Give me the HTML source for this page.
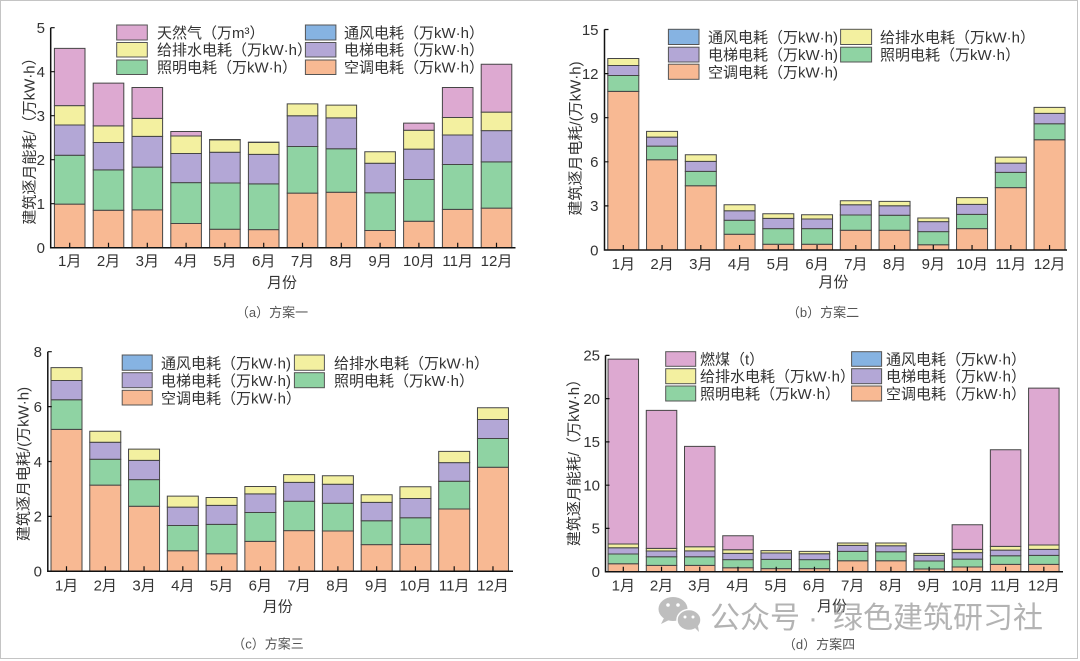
<!DOCTYPE html>
<html>
<head>
<meta charset="utf-8">
<style>
html,body{margin:0;padding:0;background:#fff;}
svg{display:block;}
text{font-family:"Liberation Sans","Noto Sans CJK SC",sans-serif;fill:#333;}
.t{font-size:15px;}
.lg{font-size:15px;}
.cap{font-size:13px;fill:#555;}
.bars rect{stroke:#454545;stroke-width:1;vector-effect:non-scaling-stroke;}
.sw{stroke:#555;stroke-width:1;}
.o{fill:#f8b993}.g{fill:#8fd3a3}.p{fill:#b3a7d6}.y{fill:#f3f0a0}.k{fill:#dda9d1}.b{fill:#86b3e2}
.ax{stroke:#111;stroke-width:1.5;fill:none;}
.tk{stroke:#111;stroke-width:1.2;}
</style>
</head>
<body>
<svg width="1080" height="661" viewBox="0 0 1080 661" xmlns="http://www.w3.org/2000/svg">
<rect x="0.5" y="0.5" width="1077" height="658" fill="#fff" stroke="#c4c4c4" stroke-width="1"/>

<!-- ================= Panel A ================= -->
<g class="bars" transform="translate(0,247.7) scale(1,-44)">
<rect class="o" x="54.4" y="0" width="30.6" height="0.99"/><rect class="g" x="54.4" y="0.99" width="30.6" height="1.11"/><rect class="p" x="54.4" y="2.10" width="30.6" height="0.69"/><rect class="y" x="54.4" y="2.79" width="30.6" height="0.44"/><rect class="k" x="54.4" y="3.23" width="30.6" height="1.30"/>
<rect class="o" x="93.2" y="0" width="30.6" height="0.85"/><rect class="g" x="93.2" y="0.85" width="30.6" height="0.92"/><rect class="p" x="93.2" y="1.77" width="30.6" height="0.62"/><rect class="y" x="93.2" y="2.39" width="30.6" height="0.38"/><rect class="k" x="93.2" y="2.77" width="30.6" height="0.97"/>
<rect class="o" x="132.0" y="0" width="30.6" height="0.86"/><rect class="g" x="132.0" y="0.86" width="30.6" height="0.97"/><rect class="p" x="132.0" y="1.83" width="30.6" height="0.70"/><rect class="y" x="132.0" y="2.53" width="30.6" height="0.41"/><rect class="k" x="132.0" y="2.94" width="30.6" height="0.70"/>
<rect class="o" x="170.8" y="0" width="30.6" height="0.55"/><rect class="g" x="170.8" y="0.55" width="30.6" height="0.93"/><rect class="p" x="170.8" y="1.48" width="30.6" height="0.66"/><rect class="y" x="170.8" y="2.14" width="30.6" height="0.40"/><rect class="k" x="170.8" y="2.54" width="30.6" height="0.10"/>
<rect class="o" x="209.6" y="0" width="30.6" height="0.42"/><rect class="g" x="209.6" y="0.42" width="30.6" height="1.05"/><rect class="p" x="209.6" y="1.47" width="30.6" height="0.70"/><rect class="y" x="209.6" y="2.17" width="30.6" height="0.28"/><rect class="k" x="209.6" y="2.45" width="30.6" height="0.01"/>
<rect class="o" x="248.4" y="0" width="30.6" height="0.41"/><rect class="g" x="248.4" y="0.41" width="30.6" height="1.04"/><rect class="p" x="248.4" y="1.45" width="30.6" height="0.67"/><rect class="y" x="248.4" y="2.12" width="30.6" height="0.27"/><rect class="k" x="248.4" y="2.39" width="30.6" height="0.01"/>
<rect class="o" x="287.2" y="0" width="30.6" height="1.24"/><rect class="g" x="287.2" y="1.24" width="30.6" height="1.06"/><rect class="p" x="287.2" y="2.30" width="30.6" height="0.70"/><rect class="y" x="287.2" y="3.00" width="30.6" height="0.27"/>
<rect class="o" x="326.0" y="0" width="30.6" height="1.26"/><rect class="g" x="326.0" y="1.26" width="30.6" height="0.99"/><rect class="p" x="326.0" y="2.25" width="30.6" height="0.70"/><rect class="y" x="326.0" y="2.95" width="30.6" height="0.29"/>
<rect class="o" x="364.8" y="0" width="30.6" height="0.39"/><rect class="g" x="364.8" y="0.39" width="30.6" height="0.86"/><rect class="p" x="364.8" y="1.25" width="30.6" height="0.67"/><rect class="y" x="364.8" y="1.92" width="30.6" height="0.26"/>
<rect class="o" x="403.6" y="0" width="30.6" height="0.60"/><rect class="g" x="403.6" y="0.60" width="30.6" height="0.95"/><rect class="p" x="403.6" y="1.55" width="30.6" height="0.69"/><rect class="y" x="403.6" y="2.24" width="30.6" height="0.43"/><rect class="k" x="403.6" y="2.67" width="30.6" height="0.16"/>
<rect class="o" x="442.4" y="0" width="30.6" height="0.87"/><rect class="g" x="442.4" y="0.87" width="30.6" height="1.02"/><rect class="p" x="442.4" y="1.89" width="30.6" height="0.67"/><rect class="y" x="442.4" y="2.56" width="30.6" height="0.40"/><rect class="k" x="442.4" y="2.96" width="30.6" height="0.68"/>
<rect class="o" x="481.2" y="0" width="30.6" height="0.90"/><rect class="g" x="481.2" y="0.90" width="30.6" height="1.05"/><rect class="p" x="481.2" y="1.95" width="30.6" height="0.71"/><rect class="y" x="481.2" y="2.66" width="30.6" height="0.42"/><rect class="k" x="481.2" y="3.08" width="30.6" height="1.09"/>
</g>
<path class="ax" d="M50.7 27.7 V247.7 H515.5"/>
<path class="tk" d="M50.7 27.7h4M50.7 71.7h4M50.7 115.7h4M50.7 159.7h4M50.7 203.7h4M69.7 247.7v-5M108.5 247.7v-5M147.3 247.7v-5M186.1 247.7v-5M224.9 247.7v-5M263.7 247.7v-5M302.5 247.7v-5M341.3 247.7v-5M380.1 247.7v-5M418.9 247.7v-5M457.7 247.7v-5M496.5 247.7v-5"/>
<g class="t" text-anchor="end">
<text x="45" y="253">0</text><text x="45" y="209">1</text><text x="45" y="165">2</text><text x="45" y="121">3</text><text x="45" y="77">4</text><text x="45" y="33">5</text>
</g>
<g class="t" text-anchor="middle">
<text x="69.7" y="266">1月</text><text x="108.5" y="266">2月</text><text x="147.3" y="266">3月</text><text x="186.1" y="266">4月</text><text x="224.9" y="266">5月</text><text x="263.7" y="266">6月</text><text x="302.5" y="266">7月</text><text x="341.3" y="266">8月</text><text x="380.1" y="266">9月</text><text x="418.9" y="266">10月</text><text x="457.7" y="266">11月</text><text x="496.5" y="266">12月</text>
<text x="282" y="287.5">月份</text>
</g>
<text class="t" text-anchor="middle" dominant-baseline="central" transform="translate(30,137.5) rotate(-90)">建筑逐月能耗/（万kW·h）</text>
<text class="cap" x="272" y="317" text-anchor="middle">（a）方案一</text>
<!-- legend A -->
<rect class="sw k" x="116.7" y="25" width="30.6" height="15"/>
<rect class="sw y" x="116.7" y="42.5" width="30.6" height="14.5"/>
<rect class="sw g" x="116.7" y="60" width="30.6" height="14.5"/>
<rect class="sw b" x="305.4" y="25" width="30.5" height="15"/>
<rect class="sw p" x="305.4" y="42.5" width="30.5" height="14.5"/>
<rect class="sw o" x="305.4" y="60" width="30.5" height="14.5"/>
<g class="lg">
<text x="157" y="38">天然气（万m³）</text>
<text x="157" y="55">给排水电耗（万kW·h）</text>
<text x="157" y="72.5">照明电耗（万kW·h）</text>
<text x="344" y="38">通风电耗（万kW·h）</text>
<text x="344" y="55">电梯电耗（万kW·h）</text>
<text x="344" y="72.5">空调电耗（万kW·h）</text>
</g>

<!-- ================= Panel B ================= -->
<g class="bars" transform="translate(0,250) scale(1,-14.7)">
<rect class="o" x="607.8" y="0" width="31" height="10.79"/><rect class="g" x="607.8" y="10.79" width="31" height="1.08"/><rect class="p" x="607.8" y="11.87" width="31" height="0.68"/><rect class="y" x="607.8" y="12.55" width="31" height="0.48"/>
<rect class="o" x="646.55" y="0" width="31" height="6.14"/><rect class="g" x="646.55" y="6.14" width="31" height="0.93"/><rect class="p" x="646.55" y="7.07" width="31" height="0.61"/><rect class="y" x="646.55" y="7.68" width="31" height="0.39"/>
<rect class="o" x="685.3" y="0" width="31" height="4.37"/><rect class="g" x="685.3" y="4.37" width="31" height="0.98"/><rect class="p" x="685.3" y="5.35" width="31" height="0.68"/><rect class="y" x="685.3" y="6.03" width="31" height="0.45"/>
<rect class="o" x="724.05" y="0" width="31" height="1.07"/><rect class="g" x="724.05" y="1.07" width="31" height="0.95"/><rect class="p" x="724.05" y="2.02" width="31" height="0.65"/><rect class="y" x="724.05" y="2.67" width="31" height="0.41"/>
<rect class="o" x="762.8" y="0" width="31" height="0.39"/><rect class="g" x="762.8" y="0.39" width="31" height="1.06"/><rect class="p" x="762.8" y="1.45" width="31" height="0.70"/><rect class="y" x="762.8" y="2.15" width="31" height="0.32"/>
<rect class="o" x="801.55" y="0" width="31" height="0.39"/><rect class="g" x="801.55" y="0.39" width="31" height="1.06"/><rect class="p" x="801.55" y="1.45" width="31" height="0.66"/><rect class="y" x="801.55" y="2.11" width="31" height="0.29"/>
<rect class="o" x="840.3" y="0" width="31" height="1.34"/><rect class="g" x="840.3" y="1.34" width="31" height="1.04"/><rect class="p" x="840.3" y="2.38" width="31" height="0.70"/><rect class="y" x="840.3" y="3.08" width="31" height="0.27"/>
<rect class="o" x="879.05" y="0" width="31" height="1.34"/><rect class="g" x="879.05" y="1.34" width="31" height="1.02"/><rect class="p" x="879.05" y="2.36" width="31" height="0.65"/><rect class="y" x="879.05" y="3.01" width="31" height="0.30"/>
<rect class="o" x="917.8" y="0" width="31" height="0.36"/><rect class="g" x="917.8" y="0.36" width="31" height="0.89"/><rect class="p" x="917.8" y="1.25" width="31" height="0.68"/><rect class="y" x="917.8" y="1.93" width="31" height="0.25"/>
<rect class="o" x="956.55" y="0" width="31" height="1.45"/><rect class="g" x="956.55" y="1.45" width="31" height="0.97"/><rect class="p" x="956.55" y="2.42" width="31" height="0.68"/><rect class="y" x="956.55" y="3.10" width="31" height="0.46"/>
<rect class="o" x="995.3" y="0" width="31" height="4.24"/><rect class="g" x="995.3" y="4.24" width="31" height="1.04"/><rect class="p" x="995.3" y="5.28" width="31" height="0.63"/><rect class="y" x="995.3" y="5.91" width="31" height="0.41"/>
<rect class="o" x="1034.05" y="0" width="31" height="7.50"/><rect class="g" x="1034.05" y="7.50" width="31" height="1.09"/><rect class="p" x="1034.05" y="8.59" width="31" height="0.70"/><rect class="y" x="1034.05" y="9.29" width="31" height="0.41"/>
</g>
<path class="ax" d="M604.5 29.5 V250 H1067"/>
<path class="tk" d="M604.5 29.5h4M604.5 73.6h4M604.5 117.7h4M604.5 161.8h4M604.5 205.9h4M623.3 250v-5M662.05 250v-5M700.8 250v-5M739.55 250v-5M778.3 250v-5M817.05 250v-5M855.8 250v-5M894.55 250v-5M933.3 250v-5M972.05 250v-5M1010.8 250v-5M1049.55 250v-5"/>
<g class="t" text-anchor="end">
<text x="598.5" y="255.3">0</text><text x="598.5" y="211.2">3</text><text x="598.5" y="167.1">6</text><text x="598.5" y="123">9</text><text x="598.5" y="78.9">12</text><text x="598.5" y="34.8">15</text>
</g>
<g class="t" text-anchor="middle">
<text x="623.3" y="269">1月</text><text x="662.05" y="269">2月</text><text x="700.8" y="269">3月</text><text x="739.55" y="269">4月</text><text x="778.3" y="269">5月</text><text x="817.05" y="269">6月</text><text x="855.8" y="269">7月</text><text x="894.55" y="269">8月</text><text x="933.3" y="269">9月</text><text x="972.05" y="269">10月</text><text x="1010.8" y="269">11月</text><text x="1049.55" y="269">12月</text>
<text x="833.5" y="287">月份</text>
</g>
<text class="t" text-anchor="middle" dominant-baseline="central" transform="translate(576,138.5) rotate(-90)">建筑逐月电耗/(万kW·h)</text>
<text class="cap" x="823" y="317" text-anchor="middle">（b）方案二</text>
<!-- legend B -->
<rect class="sw b" x="668.4" y="29.3" width="30.6" height="15.2"/>
<rect class="sw p" x="668.4" y="47.2" width="30.6" height="14.8"/>
<rect class="sw o" x="668.4" y="64.2" width="30.6" height="15.1"/>
<rect class="sw y" x="840.6" y="29.3" width="31" height="15.2"/>
<rect class="sw g" x="840.6" y="47.2" width="31" height="14.8"/>
<g class="lg">
<text x="708" y="42.5">通风电耗（万kW·h)</text>
<text x="708" y="60">电梯电耗（万kW·h)</text>
<text x="708" y="77.5">空调电耗（万kW·h)</text>
<text x="880" y="42.5">给排水电耗（万kW·h）</text>
<text x="880" y="60">照明电耗（万kW·h）</text>
</g>

<!-- ================= Panel C ================= -->
<g class="bars" transform="translate(0,571.3) scale(1,-27.45)">
<rect class="o" x="51" y="0" width="31" height="5.17"/><rect class="g" x="51" y="5.17" width="31" height="1.08"/><rect class="p" x="51" y="6.25" width="31" height="0.70"/><rect class="y" x="51" y="6.95" width="31" height="0.47"/>
<rect class="o" x="89.77" y="0" width="31" height="3.14"/><rect class="g" x="89.77" y="3.14" width="31" height="0.94"/><rect class="p" x="89.77" y="4.08" width="31" height="0.62"/><rect class="y" x="89.77" y="4.70" width="31" height="0.40"/>
<rect class="o" x="128.54" y="0" width="31" height="2.37"/><rect class="g" x="128.54" y="2.37" width="31" height="0.97"/><rect class="p" x="128.54" y="3.34" width="31" height="0.70"/><rect class="y" x="128.54" y="4.04" width="31" height="0.41"/>
<rect class="o" x="167.31" y="0" width="31" height="0.75"/><rect class="g" x="167.31" y="0.75" width="31" height="0.92"/><rect class="p" x="167.31" y="1.67" width="31" height="0.67"/><rect class="y" x="167.31" y="2.34" width="31" height="0.40"/>
<rect class="o" x="206.08" y="0" width="31" height="0.64"/><rect class="g" x="206.08" y="0.64" width="31" height="1.07"/><rect class="p" x="206.08" y="1.71" width="31" height="0.69"/><rect class="y" x="206.08" y="2.40" width="31" height="0.29"/>
<rect class="o" x="244.85" y="0" width="31" height="1.09"/><rect class="g" x="244.85" y="1.09" width="31" height="1.05"/><rect class="p" x="244.85" y="2.14" width="31" height="0.68"/><rect class="y" x="244.85" y="2.82" width="31" height="0.27"/>
<rect class="o" x="283.62" y="0" width="31" height="1.48"/><rect class="g" x="283.62" y="1.48" width="31" height="1.07"/><rect class="p" x="283.62" y="2.55" width="31" height="0.69"/><rect class="y" x="283.62" y="3.24" width="31" height="0.28"/>
<rect class="o" x="322.39" y="0" width="31" height="1.47"/><rect class="g" x="322.39" y="1.47" width="31" height="1.01"/><rect class="p" x="322.39" y="2.48" width="31" height="0.69"/><rect class="y" x="322.39" y="3.17" width="31" height="0.31"/>
<rect class="o" x="361.16" y="0" width="31" height="0.97"/><rect class="g" x="361.16" y="0.97" width="31" height="0.87"/><rect class="p" x="361.16" y="1.84" width="31" height="0.67"/><rect class="y" x="361.16" y="2.51" width="31" height="0.28"/>
<rect class="o" x="399.93" y="0" width="31" height="0.98"/><rect class="g" x="399.93" y="0.98" width="31" height="0.97"/><rect class="p" x="399.93" y="1.95" width="31" height="0.70"/><rect class="y" x="399.93" y="2.65" width="31" height="0.43"/>
<rect class="o" x="438.7" y="0" width="31" height="2.27"/><rect class="g" x="438.7" y="2.27" width="31" height="1.01"/><rect class="p" x="438.7" y="3.28" width="31" height="0.68"/><rect class="y" x="438.7" y="3.96" width="31" height="0.41"/>
<rect class="o" x="477.47" y="0" width="31" height="3.79"/><rect class="g" x="477.47" y="3.79" width="31" height="1.05"/><rect class="p" x="477.47" y="4.84" width="31" height="0.69"/><rect class="y" x="477.47" y="5.53" width="31" height="0.43"/>
</g>
<path class="ax" d="M47.8 351.7 V571.3 H513"/>
<path class="tk" d="M47.8 351.7h4M47.8 406.6h4M47.8 461.5h4M47.8 516.4h4M66.5 571.3v-5M105.27 571.3v-5M144.04 571.3v-5M182.81 571.3v-5M221.58 571.3v-5M260.35 571.3v-5M299.12 571.3v-5M337.89 571.3v-5M376.66 571.3v-5M415.43 571.3v-5M454.2 571.3v-5M492.97 571.3v-5"/>
<g class="t" text-anchor="end">
<text x="42" y="576.6">0</text><text x="42" y="521.7">2</text><text x="42" y="466.8">4</text><text x="42" y="411.9">6</text><text x="42" y="357">8</text>
</g>
<g class="t" text-anchor="middle">
<text x="66.5" y="590.5">1月</text><text x="105.27" y="590.5">2月</text><text x="144.04" y="590.5">3月</text><text x="182.81" y="590.5">4月</text><text x="221.58" y="590.5">5月</text><text x="260.35" y="590.5">6月</text><text x="299.12" y="590.5">7月</text><text x="337.89" y="590.5">8月</text><text x="376.66" y="590.5">9月</text><text x="415.43" y="590.5">10月</text><text x="454.2" y="590.5">11月</text><text x="492.97" y="590.5">12月</text>
<text x="277.7" y="611.5">月份</text>
</g>
<text class="t" text-anchor="middle" dominant-baseline="central" transform="translate(24,464) rotate(-90)">建筑逐月电耗/(万kW·h)</text>
<text class="cap" x="268" y="648.5" text-anchor="middle">（c）方案三</text>
<!-- legend C -->
<rect class="sw b" x="122.2" y="355" width="30" height="15.3"/>
<rect class="sw p" x="122.2" y="372.7" width="30" height="15"/>
<rect class="sw o" x="122.2" y="390.3" width="30" height="14.7"/>
<rect class="sw y" x="294.4" y="355" width="30" height="15.3"/>
<rect class="sw g" x="294.4" y="372.7" width="30" height="15"/>
<g class="lg">
<text x="161" y="368.3">通风电耗（万kW·h)</text>
<text x="161" y="385.8">电梯电耗（万kW·h)</text>
<text x="161" y="403.3">空调电耗（万kW·h）</text>
<text x="334" y="368.3">给排水电耗（万kW·h）</text>
<text x="334" y="385.8">照明电耗（万kW·h）</text>
</g>

<!-- ================= Panel D ================= -->
<g class="bars" transform="translate(0,571.7) scale(1,-8.653)">
<rect class="o" x="608.05" y="0" width="30.5" height="0.92"/><rect class="g" x="608.05" y="0.92" width="30.5" height="1.12"/><rect class="p" x="608.05" y="2.04" width="30.5" height="0.73"/><rect class="y" x="608.05" y="2.77" width="30.5" height="0.43"/><rect class="k" x="608.05" y="3.20" width="30.5" height="21.37"/>
<rect class="o" x="646.28" y="0" width="30.5" height="0.73"/><rect class="g" x="646.28" y="0.73" width="30.5" height="1.00"/><rect class="p" x="646.28" y="1.73" width="30.5" height="0.66"/><rect class="y" x="646.28" y="2.39" width="30.5" height="0.31"/><rect class="k" x="646.28" y="2.70" width="30.5" height="15.94"/>
<rect class="o" x="684.51" y="0" width="30.5" height="0.73"/><rect class="g" x="684.51" y="0.73" width="30.5" height="1.00"/><rect class="p" x="684.51" y="1.73" width="30.5" height="0.67"/><rect class="y" x="684.51" y="2.40" width="30.5" height="0.49"/><rect class="k" x="684.51" y="2.89" width="30.5" height="11.59"/>
<rect class="o" x="722.74" y="0" width="30.5" height="0.46"/><rect class="g" x="722.74" y="0.46" width="30.5" height="0.93"/><rect class="p" x="722.74" y="1.39" width="30.5" height="0.73"/><rect class="y" x="722.74" y="2.12" width="30.5" height="0.42"/><rect class="k" x="722.74" y="2.54" width="30.5" height="1.62"/>
<rect class="o" x="760.97" y="0" width="30.5" height="0.35"/><rect class="g" x="760.97" y="0.35" width="30.5" height="1.08"/><rect class="p" x="760.97" y="1.43" width="30.5" height="0.73"/><rect class="y" x="760.97" y="2.16" width="30.5" height="0.27"/>
<rect class="o" x="799.2" y="0" width="30.5" height="0.35"/><rect class="g" x="799.2" y="0.35" width="30.5" height="1.04"/><rect class="p" x="799.2" y="1.39" width="30.5" height="0.69"/><rect class="y" x="799.2" y="2.08" width="30.5" height="0.27"/>
<rect class="o" x="837.43" y="0" width="30.5" height="1.27"/><rect class="g" x="837.43" y="1.27" width="30.5" height="1.08"/><rect class="p" x="837.43" y="2.35" width="30.5" height="0.69"/><rect class="y" x="837.43" y="3.04" width="30.5" height="0.27"/>
<rect class="o" x="875.66" y="0" width="30.5" height="1.27"/><rect class="g" x="875.66" y="1.27" width="30.5" height="1.04"/><rect class="p" x="875.66" y="2.31" width="30.5" height="0.69"/><rect class="y" x="875.66" y="3.00" width="30.5" height="0.31"/>
<rect class="o" x="913.89" y="0" width="30.5" height="0.31"/><rect class="g" x="913.89" y="0.31" width="30.5" height="0.92"/><rect class="p" x="913.89" y="1.23" width="30.5" height="0.66"/><rect class="y" x="913.89" y="1.89" width="30.5" height="0.23"/>
<rect class="o" x="952.12" y="0" width="30.5" height="0.54"/><rect class="g" x="952.12" y="0.54" width="30.5" height="0.92"/><rect class="p" x="952.12" y="1.46" width="30.5" height="0.74"/><rect class="y" x="952.12" y="2.20" width="30.5" height="0.38"/><rect class="k" x="952.12" y="2.58" width="30.5" height="2.85"/>
<rect class="o" x="990.35" y="0" width="30.5" height="0.85"/><rect class="g" x="990.35" y="0.85" width="30.5" height="1.00"/><rect class="p" x="990.35" y="1.85" width="30.5" height="0.65"/><rect class="y" x="990.35" y="2.50" width="30.5" height="0.43"/><rect class="k" x="990.35" y="2.93" width="30.5" height="11.17"/>
<rect class="o" x="1028.58" y="0" width="30.5" height="0.85"/><rect class="g" x="1028.58" y="0.85" width="30.5" height="1.04"/><rect class="p" x="1028.58" y="1.89" width="30.5" height="0.69"/><rect class="y" x="1028.58" y="2.58" width="30.5" height="0.50"/><rect class="k" x="1028.58" y="3.08" width="30.5" height="18.14"/>
</g>
<path class="ax" d="M605.5 355.4 V571.7 H1063"/>
<path class="tk" d="M605.5 355.4h4M605.5 398.6h4M605.5 441.9h4M605.5 485.2h4M605.5 528.4h4M623.3 571.7v-5M661.53 571.7v-5M699.76 571.7v-5M737.99 571.7v-5M776.22 571.7v-5M814.45 571.7v-5M852.68 571.7v-5M890.91 571.7v-5M929.14 571.7v-5M967.37 571.7v-5M1005.6 571.7v-5M1043.83 571.7v-5"/>
<g class="t" text-anchor="end">
<text x="600" y="577">0</text><text x="600" y="533.7">5</text><text x="600" y="490.5">10</text><text x="600" y="447.2">15</text><text x="600" y="403.9">20</text><text x="600" y="360.7">25</text>
</g>
<g class="t" text-anchor="middle">
<text x="623.3" y="590.5">1月</text><text x="661.53" y="590.5">2月</text><text x="699.76" y="590.5">3月</text><text x="737.99" y="590.5">4月</text><text x="776.22" y="590.5">5月</text><text x="814.45" y="590.5">6月</text><text x="852.68" y="590.5">7月</text><text x="890.91" y="590.5">8月</text><text x="929.14" y="590.5">9月</text><text x="967.37" y="590.5">10月</text><text x="1005.6" y="590.5">11月</text><text x="1043.83" y="590.5">12月</text>
<text x="832" y="611">月份</text>
</g>
<text class="t" text-anchor="middle" dominant-baseline="central" transform="translate(574.5,459) rotate(-90)">建筑逐月能耗/（万kW·h）</text>
<text class="cap" x="819" y="649" text-anchor="middle">（d）方案四</text>
<!-- legend D -->
<rect class="sw k" x="665.7" y="351.7" width="30" height="14.6"/>
<rect class="sw y" x="665.7" y="368.7" width="30" height="15"/>
<rect class="sw g" x="665.7" y="386" width="30" height="15"/>
<rect class="sw b" x="851.6" y="351.7" width="30" height="14.6"/>
<rect class="sw p" x="851.6" y="368.7" width="30" height="15"/>
<rect class="sw o" x="851.6" y="386" width="30" height="15"/>
<g class="lg">
<text x="700" y="364.5">燃煤（t）</text>
<text x="700" y="381.7">给排水电耗（万kW·h）</text>
<text x="700" y="399">照明电耗（万kW·h）</text>
<text x="886" y="364.5">通风电耗（万kW·h）</text>
<text x="886" y="381.7">电梯电耗（万kW·h）</text>
<text x="886" y="399">空调电耗（万kW·h）</text>
</g>

<!-- watermark -->
<g opacity="0.75">
<ellipse cx="673" cy="609" rx="14.5" ry="12" fill="#a9a9a9"/>
<path d="M664 618 l-3 6 l8 -4 z" fill="#a9a9a9"/>
<ellipse cx="689" cy="620" rx="12" ry="10.5" fill="#a9a9a9" stroke="#fff" stroke-width="1.5"/>
<path d="M695 628 l4 4 l-1 -6 z" fill="#a9a9a9"/>
<circle cx="668" cy="605" r="1.8" fill="#fff"/><circle cx="678" cy="605" r="1.8" fill="#fff"/>
<circle cx="685" cy="617" r="1.5" fill="#fff"/><circle cx="693" cy="617" r="1.5" fill="#fff"/>
<text x="710" y="628" style="font-size:30px;fill:#9a9a9a">公众号</text>
<text x="813" y="628" text-anchor="middle" style="font-size:30px;fill:#9a9a9a">·</text>
<text x="833" y="628" style="font-size:30px;fill:#9a9a9a">绿色建筑研习社</text>
</g>
</svg>
</body>
</html>
